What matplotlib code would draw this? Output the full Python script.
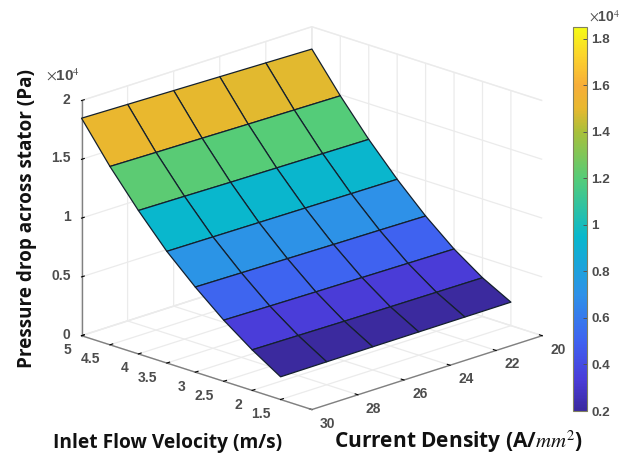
import matplotlib
matplotlib.use("Agg")
import matplotlib.pyplot as plt
import numpy as np
from matplotlib.cm import ScalarMappable
from matplotlib.colors import LinearSegmentedColormap, Normalize
from mpl_toolkits.mplot3d import proj3d

plt.rcParams["font.family"] = ["Liberation Sans", "DejaVu Sans"]
plt.rcParams["mathtext.fontset"] = "stix"

current_density = [20, 22, 24, 26, 28, 30]
inlet_velocity = [1.5, 2, 2.5, 3, 3.5, 4, 4.5, 5]

# pressure drop (Pa) along current density, one list per velocity
dp_v15 = [2000, 1990, 1980, 1970, 1950, 1930]
dp_v20 = [3300, 3320, 3340, 3370, 3410, 3450]
dp_v25 = [4970, 5010, 5050, 5090, 5140, 5200]
dp_v30 = [7000, 7050, 7090, 7140, 7190, 7240]
dp_v35 = [9350, 9380, 9410, 9440, 9470, 9500]
dp_v40 = [11970, 12010, 12050, 12090, 12150, 12200]
dp_v45 = [14900, 14950, 15000, 15060, 15110, 15170]
dp_v50 = [18100, 18180, 18260, 18340, 18420, 18500]

z_ticks = [0, 5000, 10000, 15000, 20000]
z_labels = ["0", "0.5", "1", "1.5", "2"]
v_ticks = [1.5, 2, 2.5, 3, 3.5, 4, 4.5, 5]
v_labels = ["1.5", "2", "2.5", "3", "3.5", "4", "4.5", "5"]
j_ticks = [20, 22, 24, 26, 28, 30]
j_labels = ["20", "22", "24", "26", "28", "30"]
cb_ticks = [2000, 4000, 6000, 8000, 10000, 12000, 14000, 16000, 18000]
cb_labels = ["0.2", "0.4", "0.6", "0.8", "1", "1.2", "1.4", "1.6", "1.8"]

# parula-like map, pinned to the colours seen on the surface and colour bar
parula_stops = [
    (0.00, "#3b2a9e"), (0.08, "#4a3cd8"), (0.18, "#3f62f0"), (0.30, "#2e90e8"),
    (0.455, "#08b8cc"), (0.606, "#55cc78"), (0.727, "#a8c03a"), (0.79, "#e8b82e"),
    (0.85, "#f7ae38"), (0.93, "#fcd52a"), (1.00, "#f5fb15"),
]
parula = LinearSegmentedColormap.from_list("parula", parula_stops)

X, Y = np.meshgrid(current_density, inlet_velocity)
Z = np.array([dp_v15, dp_v20, dp_v25, dp_v30, dp_v35, dp_v40, dp_v45, dp_v50], dtype=float)
norm = Normalize(vmin=2000, vmax=18500)

W, H = 628, 455
fig = plt.figure(figsize=(W / 100, H / 100), dpi=100)
ax = fig.add_axes([51 / W, -24 / H, 508 / W, 508 / H], projection="3d", proj_type="ortho")
ax.set_box_aspect((1, 1, 0.762))
ax.view_init(elev=18.7, azim=-135)

ax.plot_surface(
    X, Y, Z, facecolors=parula(norm(Z[:-1, :-1])), rstride=1, cstride=1,
    shade=False, edgecolor="#14202e", linewidth=0.9, antialiased=True,
)

ax.set_xlim(30, 20, view_margin=0)
ax.set_ylim(0.95, 5, view_margin=0)
ax.set_zlim(0, 20000, view_margin=0)
ax.set_xticks(j_ticks)
ax.set_yticks(v_ticks)
ax.set_zticks(z_ticks)
ax.set_xticklabels([""] * len(j_ticks))
ax.set_yticklabels([""] * len(v_ticks))
ax.set_zticklabels([""] * len(z_ticks))

for axis in (ax.xaxis, ax.yaxis, ax.zaxis):
    axis.set_pane_color((1, 1, 1, 1))
    axis.pane.set_edgecolor("#f0f0f0")
    axis.line.set_color("#808080")
    axis.line.set_linewidth(1.0)
    axis._axinfo["grid"].update(color="#ebebeb", linewidth=0.9)
    axis._axinfo["tick"].update(inward_factor=0.0, outward_factor=0.15, linewidth={True: 0.8, False: 0.8}, color="#808080")


# mplot3d tick labels can't be nudged, so put them at the projected tick
def tick_label(x, y, z, text, dx, dy, ha):
    px, py, _ = proj3d.proj_transform(x, y, z, ax.get_proj())
    ax.annotate(text, xy=(px, py), xycoords="data", xytext=(dx, dy), textcoords="offset pixels",
                ha=ha, va="center", fontsize=10, fontweight="bold", color="#4d4d4d", annotation_clip=False)


for j, text in zip(j_ticks, j_labels):
    tick_label(j, 0.95, 0, text, 8, -14, "left")
for v, text in zip(v_ticks, v_labels):
    tick_label(30, v, 0, text, -10, -14.5, "right")
for z, text in zip(z_ticks, z_labels):
    tick_label(30, 5, z, text, -11, 1, "right")

fig.text(27 / W, 1 - 219 / H, "Pressure drop across stator (Pa)", rotation=90, ha="center", va="center",
         family="Open Sans", fontweight="bold", fontsize=13.6, color="#111111")
fig.text(168 / W, 1 - 443 / H, "Inlet Flow Velocity (m/s)", ha="center", va="center",
         family="Open Sans", fontweight="bold", fontsize=13.8, color="#111111")
fig.text(459 / W, 1 - 442 / H, "Current Density (A/$mm^2$)", ha="center", va="center",
         family="Open Sans", fontweight="bold", fontsize=15, color="#111111")
fig.text(46 / W, 1 - 75 / H, r"$\times$10$^4$", ha="left", va="center", fontsize=11, fontweight="bold", color="#4d4d4d")
fig.text(589 / W, 1 - 17 / H, r"$\times$10$^4$", ha="left", va="center", fontsize=10, fontweight="bold", color="#4d4d4d")

cax = fig.add_axes([573 / W, 1 - 411 / H, 14 / W, 384 / H])
cb = fig.colorbar(ScalarMappable(norm=norm, cmap=parula), cax=cax)
cb.set_ticks(cb_ticks)
cb.set_ticklabels(cb_labels)
cax.tick_params(axis="y", direction="in", length=3, width=0.7, color="#555555", pad=3, labelsize=9.7, labelcolor="#4d4d4d")
for lab in cax.get_yticklabels():
    lab.set_fontweight("bold")
cb.outline.set_edgecolor("#808060")
cb.outline.set_linewidth(0.8)

fig.savefig("out.png", dpi=100)
